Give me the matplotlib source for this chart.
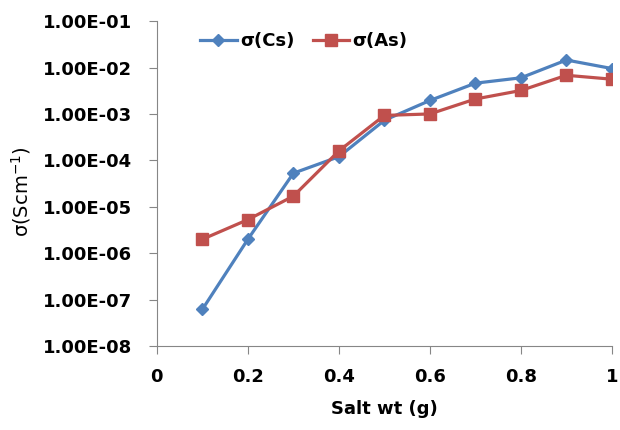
import matplotlib
matplotlib.use("Agg")
import matplotlib.pyplot as plt
from matplotlib.ticker import FixedLocator, FuncFormatter

# data (Salt wt vs conductivity)
salt_wt = [0.1, 0.2, 0.3, 0.4, 0.5, 0.6, 0.7, 0.8, 0.9, 1.0]
sigma_cs = [6.2e-8, 2.0e-6, 5.3e-5, 1.2e-4, 7.3e-4, 1.95e-3, 4.6e-3, 6.0e-3, 1.45e-2, 9.5e-3]
sigma_as = [2.0e-6, 5.3e-6, 1.7e-5, 1.6e-4, 9.3e-4, 1.0e-3, 2.1e-3, 3.2e-3, 6.8e-3, 5.6e-3]
y_ticks = [1e-8, 1e-7, 1e-6, 1e-5, 1e-4, 1e-3, 1e-2, 1e-1]
x_ticks = [0, 0.2, 0.4, 0.6, 0.8, 1.0]
x_ticklabels = ['0', '0.2', '0.4', '0.6', '0.8', '1']

plt.rcParams['font.family'] = ['DejaVu Sans']

fig = plt.figure(figsize=(6.2, 4.3), dpi=100)
ax = fig.add_axes([0.253, 0.195, 0.734, 0.756])

ax.plot(salt_wt, sigma_cs, color='#4F81BD', lw=2.3, marker='D', ms=6,
        label='σ(Cs)')
ax.plot(salt_wt, sigma_as, color='#C0504D', lw=2.3, marker='s', ms=8,
        label='σ(As)')

ax.set_yscale('log')
ax.set_ylim(1e-8, 1e-1)
ax.set_xlim(0, 1)
ax.yaxis.set_major_locator(FixedLocator(y_ticks))
ax.yaxis.set_minor_locator(FixedLocator([]))
ax.yaxis.set_major_formatter(FuncFormatter(lambda v, p: f"{v:.2E}"))
ax.set_xticks(x_ticks)
ax.set_xticklabels(x_ticklabels)

for s in ['top', 'right']:
    ax.spines[s].set_visible(False)
for s in ['left', 'bottom']:
    ax.spines[s].set_color('#868686')
ax.tick_params(axis='both', direction='out', length=6, color='#868686',
               labelsize=13)
ax.tick_params(axis='y', pad=12)
ax.tick_params(axis='x', pad=10)
for lbl in ax.get_xticklabels() + ax.get_yticklabels():
    lbl.set_fontweight('bold')

ax.set_xlabel('Salt wt (g)', fontsize=13, fontweight='bold', labelpad=10)
ax.set_ylabel('σ(Scm$^{-1}$)', fontsize=14)
ax.yaxis.set_label_coords(-0.272, 0.477)

ax.legend(loc='upper left', bbox_to_anchor=(0.06, 1.015), ncol=2, frameon=False,
          prop={'size': 13, 'weight': 'bold'}, handlelength=2.0,
          handletextpad=0.2, columnspacing=1.0)

fig.savefig('out.png', dpi=100)
